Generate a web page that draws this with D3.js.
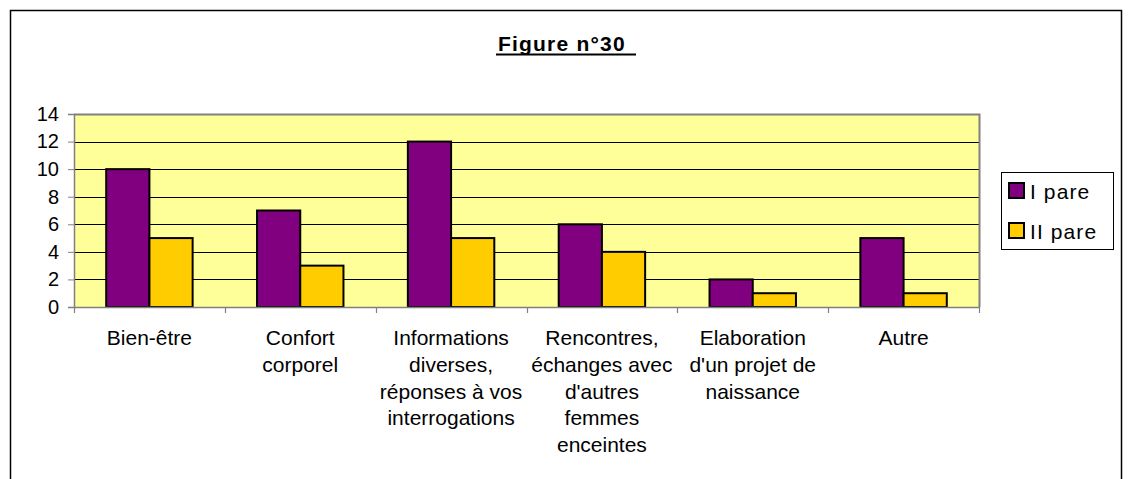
<!DOCTYPE html>
<html><head><meta charset="utf-8">
<script src="https://cdn.jsdelivr.net/npm/d3@7"></script>
<style>body{margin:0;background:#fff}svg{display:block}text{font-family:"Liberation Sans",Arial,sans-serif;fill:#000}</style>
</head><body>
<script>
const categories = [
  ["Bien-être"],
  ["Confort","corporel"],
  ["Informations","diverses,","réponses à vos","interrogations"],
  ["Rencontres,","échanges avec","d'autres","femmes","enceintes"],
  ["Elaboration","d'un projet de","naissance"],
  ["Autre"]
];
const seriesNames = ["I pare","II pare"];
const iPare = [10, 7, 12, 6, 2, 5];
const iiPare = [5, 3, 5, 4, 1, 1];
const yTicks = [0,2,4,6,8,10,12,14];
const colors = ["#800080","#FFCC00"];
const title = "Figure n°30";

(function(){
const W = 1128, H = 479;
const svg = d3.select("body").append("svg").attr("width", W).attr("height", H);

// outer frame
svg.append("rect").attr("x",10.5).attr("y",10.5).attr("width",1111).attr("height",500)
  .attr("fill","none").attr("stroke","#000").attr("stroke-width",1.5);

// title
svg.append("text").attr("x",498).attr("y",51).attr("text-anchor","start")
  .attr("font-size",21).attr("font-weight","bold").attr("letter-spacing",1.2).text(title);
svg.append("line").attr("x1",496).attr("x2",636).attr("y1",54.5).attr("y2",54.5)
  .attr("stroke","#000").attr("stroke-width",2);

const pL = 74, pR = 979, pT = 114, pB = 307;
const idx = d3.range(categories.length);
const x = d3.scaleBand().domain(idx).range([pL, pR]).paddingInner(0).paddingOuter(0);
const x1 = d3.scaleBand().domain([0,1]).range([0, x.bandwidth()]).paddingOuter(0.745).paddingInner(0);
const y = d3.scaleLinear().domain([0,14]).range([pB, pT]);

// plot background
svg.append("rect").attr("x",pL).attr("y",pT).attr("width",pR-pL).attr("height",pB-pT)
  .attr("fill","#FFFF99");

// gridlines
svg.append("g").selectAll("line").data(yTicks.filter(d=>d>0 && d<14)).join("line")
  .attr("x1",pL).attr("x2",pR).attr("y1",d=>Math.round(y(d))+0.5).attr("y2",d=>Math.round(y(d))+0.5)
  .attr("stroke","#000").attr("stroke-width",1);

// plot border (gray top/right)
svg.append("path").attr("d",`M${pL},${pT+0.5}H${pR+0.5}V${pB}`)
  .attr("fill","none").attr("stroke","#808080").attr("stroke-width",2);

// bars
const vals = [iPare, iiPare];
const g = svg.append("g");
vals.forEach((arr, s) => {
  g.selectAll(null).data(arr).join("rect")
    .attr("x",(d,i)=>x(i)+x1(s))
    .attr("y",d=>y(d))
    .attr("width",x1.bandwidth())
    .attr("height",d=>pB-y(d))
    .attr("fill",colors[s]).attr("stroke","#000").attr("stroke-width",2);
});

// y axis
const ya = svg.append("g").attr("transform",`translate(${pL},0)`)
  .call(d3.axisLeft(y).tickValues(yTicks).tickSize(6).tickPadding(9).tickFormat(d3.format("d")));
ya.select(".domain").attr("stroke","#808080").attr("stroke-width",1.5);
ya.selectAll(".tick line").attr("stroke","#808080");
ya.selectAll("text").attr("font-size",20).attr("font-family",null);

// x axis
const xa = svg.append("g").attr("transform",`translate(0,${pB})`);
xa.append("line").attr("x1",pL).attr("x2",pR).attr("y1",0.5).attr("y2",0.5).attr("stroke","#808080").attr("stroke-width",1.5);
xa.selectAll(".xt").data(d3.range(categories.length+1)).join("line")
  .attr("x1",i=>Math.round(pL + i*x.bandwidth())+0.5).attr("x2",i=>Math.round(pL + i*x.bandwidth())+0.5)
  .attr("y1",0).attr("y2",6).attr("stroke","#808080").attr("stroke-width",1.2);
categories.forEach((lines, i) => {
  const t = svg.append("text").attr("text-anchor","middle").attr("font-size",21)
    .attr("x", x(i)+x.bandwidth()/2).attr("y", 345);
  lines.forEach((ln, k) => t.append("tspan").attr("x", x(i)+x.bandwidth()/2).attr("dy", k===0?0:26.8).text(ln));
});

// legend
const lg = svg.append("g");
lg.append("rect").attr("x",1001.5).attr("y",172.5).attr("width",112).attr("height",77)
  .attr("fill","#fff").attr("stroke","#000").attr("stroke-width",1);
seriesNames.forEach((n, s) => {
  const yy = 183 + s*40;
  lg.append("rect").attr("x",1009).attr("y",yy).attr("width",15).attr("height",15)
    .attr("fill",colors[s]).attr("stroke","#000").attr("stroke-width",2);
  lg.append("text").attr("x",1030).attr("y",yy+15.5).attr("font-size",21).attr("letter-spacing",1.1).text(n);
});
})();
</script>
</body></html>
